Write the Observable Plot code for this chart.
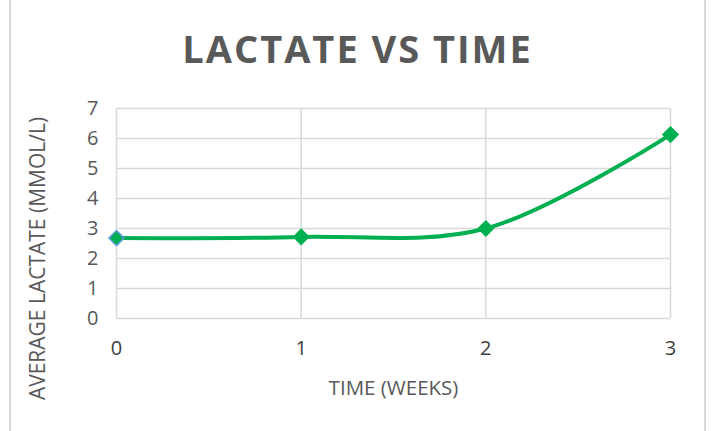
<!DOCTYPE html>
<html>
<head>
<meta charset="utf-8">
<script src="https://cdn.jsdelivr.net/npm/d3@7"></script>
<script src="https://cdn.jsdelivr.net/npm/@observablehq/plot@0.6"></script>
<style>
  html, body { margin: 0; padding: 0; background: #fff; }
  #wrap { position: relative; width: 715px; height: 431px; overflow: hidden; font-family: "Open Sans", sans-serif; }
  #title { height: 90px; line-height: 96px; text-align: center; font-size: 38px; font-weight: 700; color: #595959; letter-spacing: 2px; padding-left: 0px; }
  .bl { position: absolute; top: 0; bottom: 0; width: 2px; background: #d9d9d9; }
</style>
</head>
<body>
<div id="wrap">
  <div class="bl" style="left:9px"></div>
  <div class="bl" style="left:704px"></div>
  <div id="title">LACTATE VS TIME</div>
  <div id="chart"></div>
</div>
<script>
const weeks = [0, 1, 2, 3];
const lactate = [2.68, 2.72, 3.0, 6.13];
const yTicks = [0, 1, 2, 3, 4, 5, 6, 7];
const xLabel = "TIME (WEEKS)";
const yLabel = "AVERAGE LACTATE (MMOL/L)";

const data = weeks.map((w, i) => ({week: w, value: lactate[i], first: i === 0}));

const chart = Plot.plot({
  width: 715,
  height: 341,
  marginLeft: 116,
  marginRight: 45,
  marginTop: 18,
  marginBottom: 113,
  style: {fontFamily: "Open Sans, sans-serif", fontSize: "20px", color: "#595959", background: "transparent"},
  x: {domain: [0, 3], label: null},
  y: {domain: [0, 7], label: null},
  marks: [
    Plot.ruleY(yTicks, {stroke: "#d9d9d9", strokeWidth: 1.5}),
    Plot.ruleX(weeks, {stroke: "#d9d9d9", strokeWidth: 1.5}),
    Plot.axisX({ticks: weeks, tickFormat: d => String(d), tickSize: 0, tickPadding: 22, fill: "#404040", fontSize: 20, label: null}),
    Plot.axisY({ticks: yTicks, tickFormat: d => String(d), tickSize: 0, tickPadding: 18, fill: "#595959", fontSize: 20, label: null}),
    Plot.line(data, {x: "week", y: "value", stroke: "#00B050", strokeWidth: 4, curve: "catmull-rom"}),
    Plot.dot(data, {x: "week", y: "value", symbol: "diamond2", r: 6.8, fill: "#00B050", stroke: d => d.first ? "#5B9BD5" : "#00B050", strokeWidth: 1.5}),
    Plot.text([xLabel], {frameAnchor: "bottom", dy: 76, fontSize: 20.5, fill: "#595959", text: d => d}),
    Plot.text([yLabel], {frameAnchor: "left", textAnchor: "middle", dx: -78, dy: 45, rotate: -90, fontSize: 21, fill: "#595959", text: d => d})
  ]
});
document.getElementById("chart").appendChild(chart);
</script>
</body>
</html>
